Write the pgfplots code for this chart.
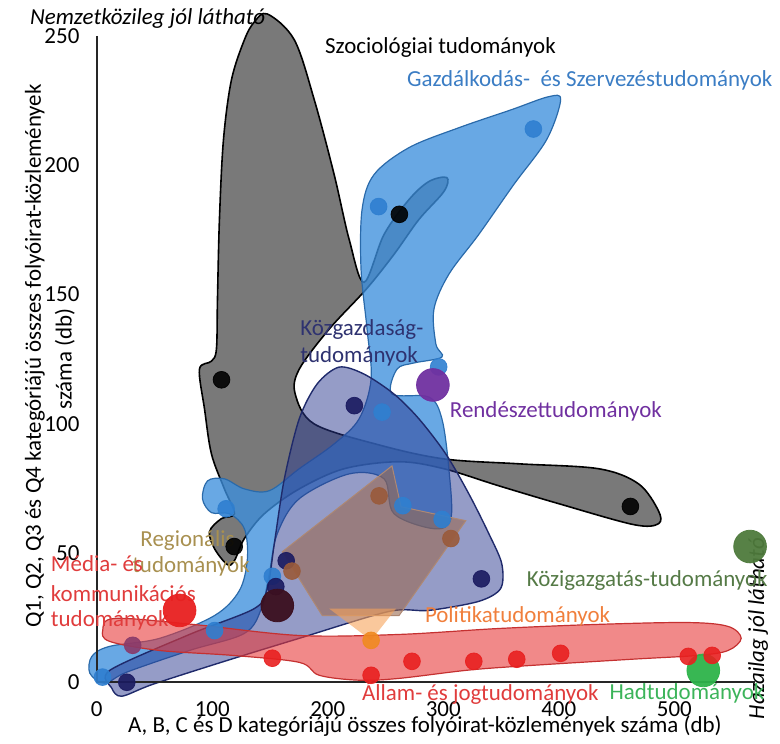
\documentclass[border=0pt]{standalone}
\usepackage{fontspec}
\setmainfont{Carlito}
\usepackage{pgfplots}
\pgfplotsset{compat=1.18}

\definecolor{shgray}{HTML}{6E6E6E}
\definecolor{shblue}{HTML}{3D8FDD}
\definecolor{shblueline}{HTML}{2A6AAA}
\definecolor{shnavy}{HTML}{2B3990}
\definecolor{shnavyline}{HTML}{1F2A6B}
\definecolor{shbrown}{HTML}{9A6A50}
\definecolor{shorange}{HTML}{F6A35A}
\definecolor{shred}{HTML}{E83A3A}
\definecolor{dotblue}{HTML}{2F7FD0}
\definecolor{dotnavy}{HTML}{1A1A60}
\definecolor{dotbrown}{HTML}{9A5A3A}
\definecolor{dotred}{HTML}{E82020}
\definecolor{dotmauve}{HTML}{8A3A6A}
\definecolor{dotmaroon}{HTML}{3B0F1F}
\definecolor{dotorange}{HTML}{F08A20}
\definecolor{dotpurple}{HTML}{7030A0}
\definecolor{dotdkgreen}{HTML}{4E7A3C}
\definecolor{dotgreen}{HTML}{2DB34A}
\definecolor{txtblue}{HTML}{3B7DC4}
\definecolor{txtnavy}{HTML}{2E3270}
\definecolor{txttan}{HTML}{A89050}
\definecolor{txtred}{HTML}{E03C3C}
\definecolor{txtorange}{HTML}{F07F3C}
\definecolor{txtdkgreen}{HTML}{557A46}
\definecolor{txtgreen}{HTML}{3CB45A}

\pgfplotsset{
  dot/.style={only marks, mark=*, mark size=4.2pt, color=#1,
    mark options={draw=#1, fill=#1, fill opacity=0.9, draw opacity=0.9}},
  bigdot/.style={only marks, mark=*, mark size=8.2pt, color=#1,
    mark options={draw=#1, fill=#1, fill opacity=0.95, draw opacity=0.95}},
}

\begin{document}
\fontsize{11.5}{13}\selectfont
\begin{tikzpicture}
\begin{axis}[
    scale only axis,
    width=390pt, height=369.5pt,
    xmin=-83.77, xmax=589.8,
    ymin=-21.22, ymax=263.9,
    hide axis,
    clip=false,
]
% keeps the page as large as the whole chart
\addplot[draw=none] coordinates {(-83.77,-21.22) (589.8,263.9)};

% Szociologiai tudomanyok
\addplot[fill=shgray, fill opacity=0.92, draw=black, line width=0.8pt, smooth cycle, tension=0.55]
coordinates {
(147.7,258.5) (171.0,248.5) (188.3,225.3) (205.5,196.4) (218.5,171.3) (231.4,154.7)
(248.7,173.2) (270.3,186.7) (287.6,193.7) (303.1,195.2) (300.5,189.8) (278.9,179.0)
(257.3,165.5) (233.2,152.0) (201.2,136.6) (175.3,121.1) (171.8,111.5) (188.3,99.9)
(244.4,91.8) (300.5,86.4) (365.3,84.5) (434.4,82.6) (468.9,76.8) (486.2,66.4)
(486.2,61.3) (464.6,61.0) (399.8,69.1) (348.0,76.0) (300.5,82.6) (261.7,85.3)
(214.2,82.6) (175.3,74.8) (145.1,65.2) (127.8,55.6) (119.2,47.1) (113.1,45.5)
(101.9,51.7) (97.6,58.3) (107.9,63.3) (119.2,65.2) (110.5,74.8) (99.3,88.3)
(93.3,105.7) (88.9,121.1) (99.3,124.2) (103.6,128.9) (104.5,148.1) (106.2,179.0)
(109.7,209.9) (116.6,233.0) (127.8,248.5) (136.4,255.4)
};

% Gazdalkodas- es Szervezestudomanyok
\addplot[fill=shblue, fill opacity=0.78, draw=shblueline, line width=0.6pt, smooth cycle, tension=0.55]
coordinates {
(401.6,225.3) (389.5,209.9) (361.0,192.5) (330.7,173.2) (304.8,157.8) (291.9,144.3)
(293.6,130.8) (298.8,125.8) (274.6,123.5) (259.9,121.1) (255.6,111.5) (287.6,110.3)
(298.8,101.9) (304.8,82.6) (306.6,63.3) (291.9,59.4) (257.3,65.2) (248.7,78.7)
(218.5,80.6) (175.3,71.0) (156.3,57.5) (149.4,42.1) (142.5,28.5) (127.8,18.9)
(80.3,12.3) (25.9,3.9) (6.9,-0.4) (-6.0,3.5) (-4.3,10.0) (11.2,13.9)
(54.4,17.0) (101.9,25.8) (123.5,35.5) (130.4,47.8) (127.8,59.4) (114.9,65.2)
(99.3,65.6) (91.5,71.0) (95.9,77.9) (110.5,78.7) (127.8,74.8) (149.4,74.1)
(175.3,82.6) (205.5,92.2) (227.1,101.9) (237.5,117.3) (234.0,136.6) (228.8,159.7)
(229.7,182.9) (240.1,196.4) (270.3,206.8) (313.5,214.5) (359.2,221.5) (391.2,226.5)
};

% Kozgazdasag-tudomanyok
\addplot[fill=shnavy, fill opacity=0.5, draw=shnavyline, line width=0.7pt, smooth cycle, tension=0.5]
coordinates {
(209.8,121.9) (231.4,119.2) (257.3,111.5) (278.9,101.9) (302.2,88.3) (322.1,72.9)
(339.4,57.5) (350.6,45.9) (349.7,36.3) (330.7,31.3) (287.6,27.8) (253.0,27.4)
(175.3,17.0) (110.5,8.1) (48.4,-0.8) (21.6,-5.4) (13.0,-2.3) (11.2,4.6)
(80.3,18.5) (136.4,28.5) (147.7,36.3) (153.7,53.6) (162.4,78.7) (175.3,101.9)
(190.8,115.4)
};

% Regionalis tudomanyok
\addplot[fill=shbrown, fill opacity=0.6, draw=shbrown!80!white, line width=0.5pt]
coordinates {
(255.6,83.7) (263.4,67.9) (319.5,62.5) (261.7,25.8) (195.2,25.8) (160.6,50.5) (255.6,83.7)
} -- cycle;

% Politikatudomanyok
\addplot[fill=shorange, fill opacity=0.6, draw=none]
coordinates {(201.2,28.5) (259.1,28.5) (237.5,16.2) (201.2,28.5)} -- cycle;

% Allam- es jogtudomanyok
\addplot[fill=shred, fill opacity=0.6, draw=shred!85!black, line width=0.6pt, smooth cycle, tension=0.55]
coordinates {
(5.2,20.1) (15.5,24.7) (82.9,22.4) (175.3,18.1) (261.7,18.5) (348.0,20.8)
(434.4,22.4) (512.1,23.1) (546.6,21.6) (557.9,17.0) (546.6,12.3) (520.7,10.4)
(462.9,8.9) (365.3,6.2) (319.5,4.6) (261.7,1.5) (227.1,0.8) (192.6,2.7)
(175.3,7.7) (117.4,10.4) (54.4,12.3) (11.2,15.8)
};

% points
\addplot[dot=black] coordinates {(108,117) (262,181) (119,52.5) (462,68)};
\addplot[dot=dotblue] coordinates {(378,214) (244,184) (296,122) (247,104.5) (112,67.1)
  (265,68.3) (299,63) (102,20) (152,41) (5,2)};
\addplot[dot=dotnavy] coordinates {(223,107) (164,47) (155,37) (333,40) (26,0)};
\addplot[dot=dotbrown] coordinates {(244.4,72.1) (306.6,55.6) (169,43)};
\addplot[dot=dotmauve] coordinates {(31.1,14.3)};
\addplot[dot=dotorange] coordinates {(237.5,16.2)};
\addplot[bigdot=dotmaroon] coordinates {(156.3,29.7)};
\addplot[bigdot=dotred] coordinates {(71.7,27.8)};
\addplot[bigdot=dotpurple] coordinates {(291.0,115.0)};
\addplot[bigdot=dotdkgreen] coordinates {(565.6,52.5)};
\addplot[bigdot=dotgreen] coordinates {(525.1,4.6)};
\addplot[dot=dotred] coordinates {(152,9.3) (237.5,2.7) (272.9,8.1) (326.4,8.1)
  (363.6,8.9) (401.6,11.2) (512.1,10.0) (532.8,10.4)};

% axis lines
\addplot[black!85, line width=1pt] coordinates {(0,250) (0,0) (570,0)};

% tick labels
\foreach \v in {0,50,...,250}{
  \edef\tmp{\noexpand\node[anchor=east, inner sep=0pt] at (axis cs:-14.7,\v) {\v};}\tmp
}
\foreach \v in {0,100,...,500}{
  \edef\tmp{\noexpand\node[inner sep=0pt] at (axis cs:\v,-10.2) {\v};}\tmp
}

% axis titles
\node at (axis cs:284.1,-16.8) {A, B, C és D kategóriájú összes folyóirat-közlemények száma (db)};
\node[rotate=90] at (axis cs:-53.5,126.2) {Q1, Q2, Q3 és Q4 kategóriájú összes folyóirat-közlemények};
\node[rotate=90] at (axis cs:-27.6,125.0) {száma (db)};
\node at (axis cs:44.0,256.9) {\itshape Nemzetközileg jól látható};
\node[rotate=90] at (axis cs:572.5,20.8) {\itshape Hazailag jól látható};

% group labels
\node[anchor=west] at (axis cs:190.8,245.4) {Szociológiai tudományok};
\node[anchor=west, text=txtblue] at (axis cs:261.7,233.0) {Gazdálkodás-\ \ és Szervezéstudományok};
\node[anchor=west, text=txtnavy] at (axis cs:169.3,136.6) {Közgazdaság-};
\node[anchor=west, text=txtnavy] at (axis cs:169.3,126.2) {tudományok};
\node[anchor=west, text=dotpurple] at (axis cs:298.8,104.9) {Rendészettudományok};
\node[text=txttan] at (axis cs:78.6,54.8) {Regionális};
\node[text=txttan] at (axis cs:81.6,44.8) {tudományok};
\node[anchor=west, text=txtred] at (axis cs:-46.6,45.9) {Média- és};
\node[anchor=west, text=txtred] at (axis cs:-46.6,34.3) {kommunikációs};
\node[anchor=west, text=txtred] at (axis cs:-46.6,23.9) {tudományok};
\node[anchor=west, text=txtorange] at (axis cs:277.2,25.5) {Politikatudományok};
\node[anchor=west, text=txtdkgreen] at (axis cs:365.3,39.4) {Közigazgatás-tudományok};
\node[anchor=west, text=txtred] at (axis cs:222.8,-4.2) {Állam- és jogtudományok};
\node[anchor=west, text=txtgreen] at (axis cs:437.0,-4.2) {Hadtudományok};
\end{axis}
\end{tikzpicture}
\end{document}
